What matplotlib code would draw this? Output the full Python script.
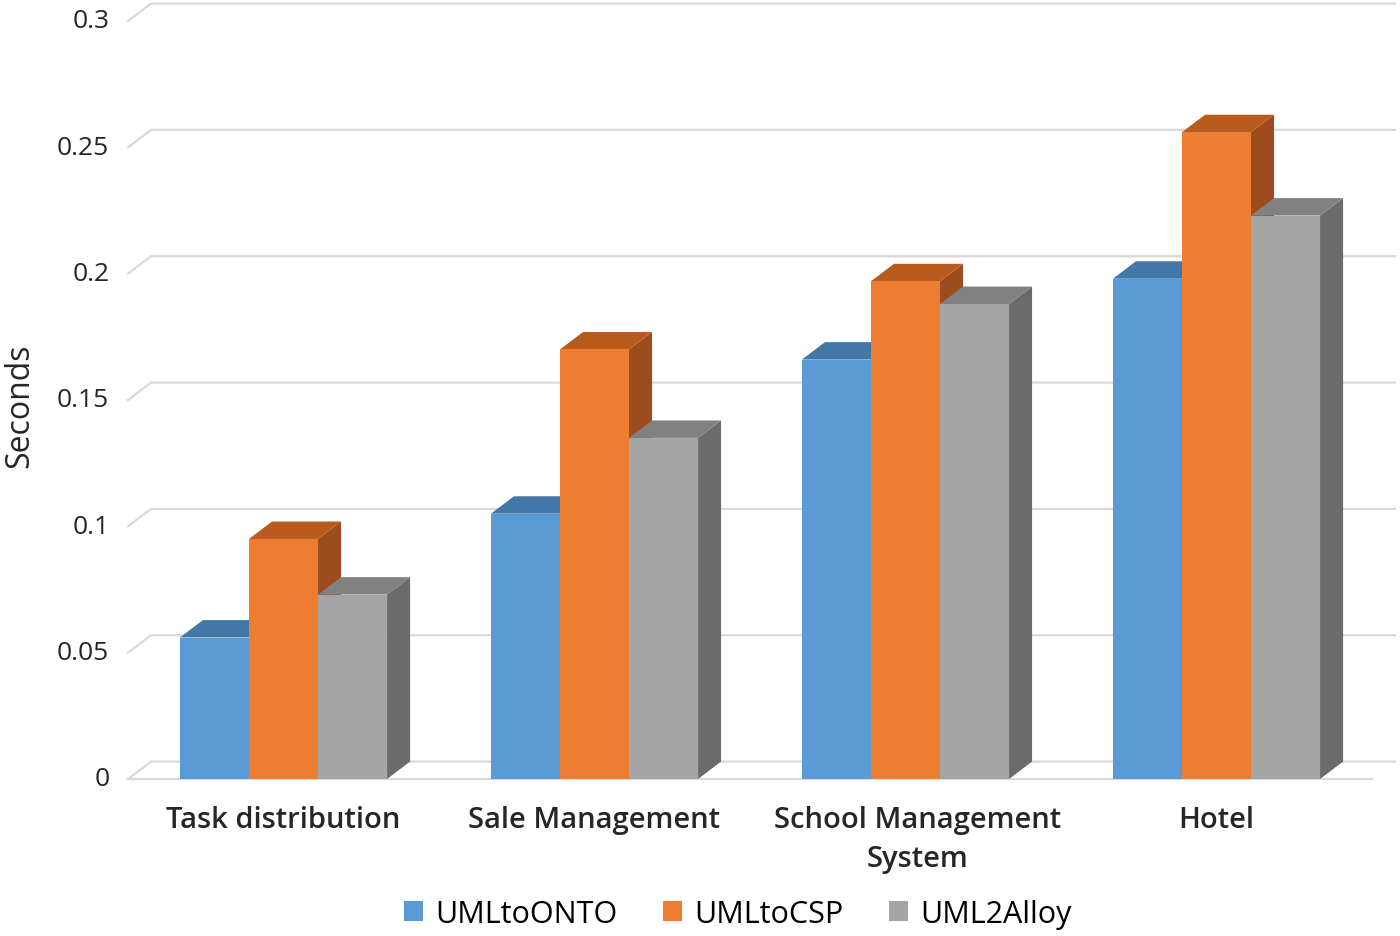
'''3D-style grouped column chart drawn with flat polygons'''

import matplotlib
matplotlib.use('Agg')
import matplotlib.pyplot as plt
from matplotlib.patches import Polygon, Patch

categories = ['Task distribution', 'Sale Management', 'School Management\nSystem', 'Hotel']
series = ['UMLtoONTO', 'UMLtoCSP', 'UML2Alloy']
umltoonto = [0.056, 0.105, 0.166, 0.198]
umltocsp = [0.095, 0.170, 0.197, 0.256]
uml2alloy = [0.073, 0.135, 0.188, 0.223]
yticks = [0, 0.05, 0.1, 0.15, 0.2, 0.25, 0.3]
ytick_labels = ['0', '0.05', '0.1', '0.15', '0.2', '0.25', '0.3']

values = [umltoonto, umltocsp, uml2alloy]
front = ['#5B9BD5', '#ED7D31', '#A5A5A5']
top = ['#4277A8', '#B95A1E', '#818181']
side = ['#3F6F9C', '#9D4C1E', '#6B6B6B']

plt.rcParams['font.family'] = ['Open Sans', 'DejaVu Sans']

fig = plt.figure(figsize=(14, 9.37), dpi=100)
ax = fig.add_axes([128 / 1400, (937 - 780) / 937, (1372 - 128) / 1400, 758 / 937])
ax.set_xlim(-0.5, 3.5)
ax.set_ylim(0, 0.3)
ax.axis('off')

# depth offset of the fake 3d (category units, value units)
dx = 0.074
dy = 0.0069
bw = 0.222

# walls / gridlines
grid_c = '#D9D9D9'
for v in yticks:
    ax.plot([-0.5, -0.5 + dx, 3.5 + dx], [v, v + dy, v + dy], color=grid_c, lw=1.6,
            clip_on=False, zorder=1)
    ax.text(-0.5 - 0.06, v, ytick_labels[yticks.index(v)], ha='right', va='center',
            fontsize=19, color='#262626')
ax.plot([-0.5, 3.5], [0, 0], color=grid_c, lw=1.6, clip_on=False, zorder=1)

# bars, left to right so the next bar hides the previous side face
z = 2
for i in range(len(categories)):
    for s in range(len(series)):
        x0 = i + (s - 1.5) * bw
        x1 = x0 + bw
        h = values[s][i]
        ax.add_patch(Polygon([[x1, 0], [x1 + dx, dy], [x1 + dx, h + dy], [x1, h]],
                             closed=True, fc=side[s], ec='none', zorder=z, clip_on=False))
        ax.add_patch(Polygon([[x0, h], [x1, h], [x1 + dx, h + dy], [x0 + dx, h + dy]],
                             closed=True, fc=top[s], ec='none', zorder=z, clip_on=False))
        ax.add_patch(Polygon([[x0, 0], [x1, 0], [x1, h], [x0, h]],
                             closed=True, fc=front[s], ec='none', zorder=z, clip_on=False))
        z += 1
    # wrapped label sits a little right of the group centre, like the original
    xl = i + 0.04 if '\n' in categories[i] else i
    ax.text(xl, -0.0103, categories[i], ha='center', va='top', fontsize=21,
            fontweight='semibold', color='#262626', linespacing=1.45)

fig.text(20 / 1400, 1 - 406 / 937, 'Seconds', rotation=90, ha='center', va='center',
         fontsize=23, color='#262626')

handles = [Patch(facecolor=front[s], edgecolor='none', label=series[s]) for s in range(3)]
fig.legend(handles=handles, loc='center', bbox_to_anchor=(0.527, 0.024), ncol=3,
           frameon=False, fontsize=22, handlelength=0.62, handleheight=0.62,
           handletextpad=0.4, columnspacing=1.5)

fig.savefig('out.png', dpi=100)
